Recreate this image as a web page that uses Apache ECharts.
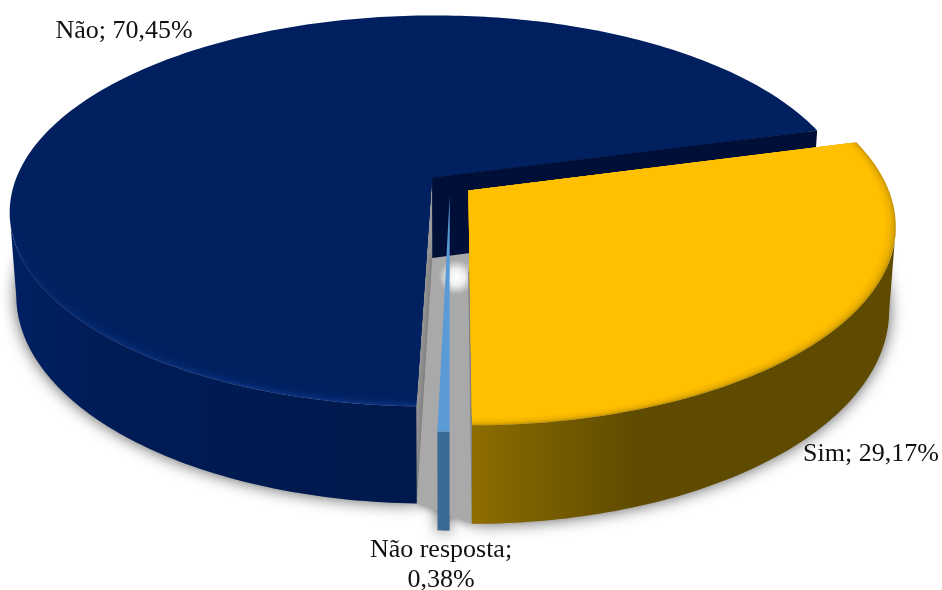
<!DOCTYPE html>
<html>
<head>
<meta charset="utf-8">
<title>Pie</title>
<style>
html, body { margin: 0; padding: 0; background: #fff; }
#chart { width: 942px; height: 590px; }
</style>
<script src="https://cdn.jsdelivr.net/npm/echarts@6/dist/echarts.min.js"></script>
</head>
<body>
<div id="chart"></div>
<script>
// dados, na ordem horaria a partir da fatia Sim
var aNames = ['Sim', 'Não resposta', 'Não'];
var aValues = [29.17, 0.38, 70.45];

var aTopColor = ['#ffc000', '#6aa8e0', '#002060'];
var aRimColor = ['#c99600', '#5b9bd5', '#0c3280'];

// pie geometry (ground plane seen in perspective)
var nCx = 450, nCy = 184, nRx = 418, nRy = 192, nPersp = 0.172, nDepth = 81;
var nExplode = 0.055;
var nStartDeg = 75;

function project(X, Y, z) {
    var w = 1 + nPersp * Y;
    return [nCx + nRx * X / w * (1 - 0.015 * z), nCy - nRy * Y / w + nDepth * z / w];
}

// angulos de cada fatia, a partir dos valores
var nTotal = aValues.reduce(function (a, b) { return a + b; }, 0);
var aSlices = [];
var nAcc = nStartDeg;
aValues.forEach(function (v) {
    var nSpan = v / nTotal * 360;
    var nMid = (nAcc + nSpan / 2) * Math.PI / 180;
    aSlices.push({
        a0: nAcc,
        a1: nAcc + nSpan,
        ox: Math.sin(nMid) * nExplode,
        oy: Math.cos(nMid) * nExplode
    });
    nAcc += nSpan;
});

function arcPoints(s, r, z) {
    var pts = [];
    var n = Math.max(4, Math.ceil(s.a1 - s.a0));
    for (var i = 0; i <= n; i++) {
        var a = (s.a0 + (s.a1 - s.a0) * i / n) * Math.PI / 180;
        pts.push(project(s.ox + r * Math.sin(a), s.oy + r * Math.cos(a), z));
    }
    return pts;
}

function apex(s, z) {
    return project(s.ox, s.oy, z);
}

// so a parte da frente do arco, ate o ponto mais extremo em x
function frontRange(i, pts) {
    var idx = 0;
    pts.forEach(function (p, k) {
        if (i === 0 ? p[0] > pts[idx][0] : p[0] < pts[idx][0]) idx = k;
    });
    if (i === 0) return [idx, pts.length];
    if (i === 2) return [0, idx + 1];
    return [0, pts.length];
}

// primeira passada: sombras no chao e o vao entre as fatias
function renderShadow(params, api) {
    var s = aSlices[api.value(0)];
    var toPx = function (p) { return api.coord(p); };
    var floor = [apex(s, 1)].concat(arcPoints(s, 1, 1)).map(toPx);
    return {
        type: 'polygon', shape: { points: floor },
        style: { fill: '#999', shadowBlur: 16, shadowColor: 'rgba(0,0,0,0.65)' }
    };
}

function renderGap(params, api) {
    var sYes = aSlices[0], sNo = aSlices[2];
    var toPx = function (p) { return api.coord(p); };
    var aYes = arcPoints(sYes, 1, 1);
    var aNo = arcPoints(sNo, 1, 1);
    var gap = [apex(sNo, 1), apex(sYes, 0), apex(sYes, 1), aYes[aYes.length - 1], aNo[0]].map(toPx);
    return {
        type: 'polygon', shape: { points: gap },
        style: {
            fill: {
                type: 'radial', x: 0.72, y: 0.26, r: 0.32,
                colorStops: [{ offset: 0, color: '#fff' }, { offset: 0.45, color: '#f0f0f0' }, { offset: 1, color: '#a9a9a9' }]
            },
            shadowBlur: 10,
            shadowColor: 'rgba(90,90,90,0.8)'
        }
    };
}

function renderSlice(params, api) {
    var i = api.value(0);
    var s = aSlices[i];
    var toPx = function (p) { return api.coord(p); };
    var aChild = [];

    // lateral
    var aTopArc = arcPoints(s, 1, 0);
    var aBotArc = arcPoints(s, 1, 1);
    var aRange = frontRange(i, aTopArc);
    var side = aTopArc.slice(aRange[0], aRange[1]).concat(aBotArc.slice(aRange[0], aRange[1]).reverse()).map(toPx);
    var fillSide = '#3b6a94';
    if (i === 0) {
        fillSide = {
            type: 'linear', x: 0, y: 0, x2: 1, y2: 0,
            colorStops: [
                { offset: 0, color: '#8f6e00' }, { offset: 0.14, color: '#7c6000' },
                { offset: 0.38, color: '#604c00' }, { offset: 1, color: '#5e4a00' }
            ]
        };
    } else if (i === 2) {
        fillSide = {
            type: 'linear', x: 0, y: 0, x2: 1, y2: 0,
            colorStops: [
                { offset: 0, color: '#002062' }, { offset: 0.25, color: '#001c56' },
                { offset: 1, color: '#00194c' }
            ]
        };
    }
    aChild.push({ type: 'polygon', shape: { points: side }, style: { fill: fillSide } });

    // topo com borda suave: poligonos encaixados que vao fechando na cor do topo
    var top = [apex(s, 0)].concat(aTopArc).map(toPx);
    var fillTop = aRimColor[i];
    if (i === 2) {
        fillTop = {
            type: 'linear', x: 0, y: 0, x2: 0, y2: 1,
            colorStops: [{ offset: 0, color: aTopColor[i] }, { offset: 0.5, color: aTopColor[i] }, { offset: 1, color: aRimColor[i] }]
        };
    }
    aChild.push({ type: 'polygon', shape: { points: top }, style: { fill: fillTop } });
    if (i !== 1) {
        var nSteps = 8;
        for (var k = 1; k <= nSteps; k++) {
            var nR = 1 - 0.003 * k * (i === 2 ? 1.6 : 1);
            aChild.push({
                type: 'polygon',
                shape: { points: [apex(s, 0)].concat(arcPoints(s, nR, 0)).map(toPx) },
                style: { fill: aTopColor[i], opacity: k === nSteps ? 1 : 0.3 }
            });
        }
    }

    if (i === 2) {
        // parede interna que fica visivel acima da fatia Sim
        var wallFar = [apex(s, 0), aTopArc[aTopArc.length - 1], aBotArc[aBotArc.length - 1], apex(s, 1)].map(toPx);
        aChild.push({ type: 'polygon', shape: { points: wallFar }, style: { fill: '#000f38' } });
    }
    return { type: 'group', children: aChild };
}

function fmtPct(v) {
    return v.toFixed(2).replace('.', ',') + '%';
}

var oLabelStyle = { fontFamily: '"Liberation Serif"', fontSize: 26, fill: '#111', textAlign: 'center' };

var oChart = echarts.init(document.getElementById('chart'), null, { renderer: 'canvas' });
oChart.setOption({
    backgroundColor: '#fff',
    animation: false,
    grid: { left: 0, right: 0, top: 0, bottom: 0 },
    xAxis: { type: 'value', min: 0, max: 942, show: false },
    yAxis: { type: 'value', min: 0, max: 590, inverse: true, show: false },
    series: [
        { type: 'custom', coordinateSystem: 'cartesian2d', renderItem: renderShadow, clip: false, data: [[2], [0], [1]] },
        { type: 'custom', coordinateSystem: 'cartesian2d', renderItem: renderGap, clip: false, data: [[1]] },
        // desenha de tras para frente
        { type: 'custom', coordinateSystem: 'cartesian2d', renderItem: renderSlice, clip: false, data: [[2], [1], [0]] }
    ],
    graphic: [
        { type: 'text', x: 124, y: 18, style: Object.assign({ text: aNames[2] + '; ' + fmtPct(aValues[2]) }, oLabelStyle) },
        { type: 'text', x: 871, y: 441, style: Object.assign({ text: aNames[0] + '; ' + fmtPct(aValues[0]) }, oLabelStyle) },
        { type: 'text', x: 441, y: 535, style: Object.assign({ text: aNames[1] + ';\n' + fmtPct(aValues[1]), lineHeight: 30 }, oLabelStyle) }
    ]
});
</script>
</body>
</html>
